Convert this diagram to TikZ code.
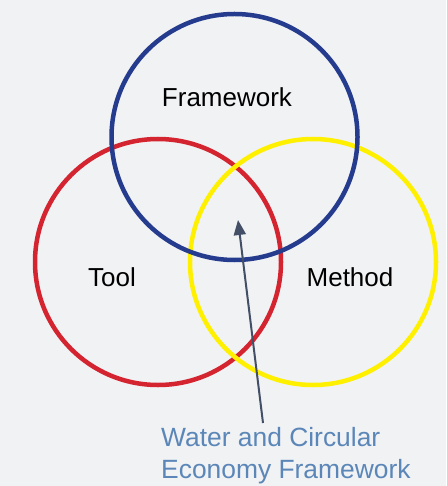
\documentclass[tikz,border=0pt]{standalone}
\usepackage{fontspec}
\setmainfont{Liberation Sans}
\usetikzlibrary{arrows.meta}
\definecolor{bg}{HTML}{F1F2F4}
\definecolor{cblue}{HTML}{243B8E}
\definecolor{cred}{HTML}{D42430}
\definecolor{cyel}{HTML}{FFF000}
\definecolor{arrowc}{HTML}{434F66}
\definecolor{labc}{HTML}{5B86B8}
\begin{document}
\begin{tikzpicture}[x=1pt,y=-1pt,
  ring/.style={circle,draw,line width=4.5pt,minimum size=246pt,inner sep=0pt,outer sep=0pt},
  lab/.style={font=\fontsize{26}{32}\selectfont,text=black,inner sep=0pt},
  note/.style={font=\fontsize{26.4}{32}\selectfont,text=labc,align=left,anchor=north west,inner sep=0pt}]
\fill[bg] (0,0) rectangle (446,486);
\useasboundingbox (0,0) rectangle (446,486);
\node[ring,draw=cred] (tool) at (158,262) {};
\node[ring,draw=cyel] (method) at (313,262) {};
\node[ring,draw=cblue] (frame) at (234.5,137) {};
\node[lab] (tframe) at (227,97) {Framework};
\node[lab] (ttool) at (112,277) {Tool};
\node[lab] (tmethod) at (350,277) {Method};
\node[note] (wcef) at (161,427) {Water and Circular\\Economy Framework};
\coordinate (tail) at (263,423);
\coordinate (tip) at (238,220);
\draw[arrowc,line width=2pt,-{Triangle[length=15pt,width=12pt]}] (tail) -- (tip);
\end{tikzpicture}
\end{document}
